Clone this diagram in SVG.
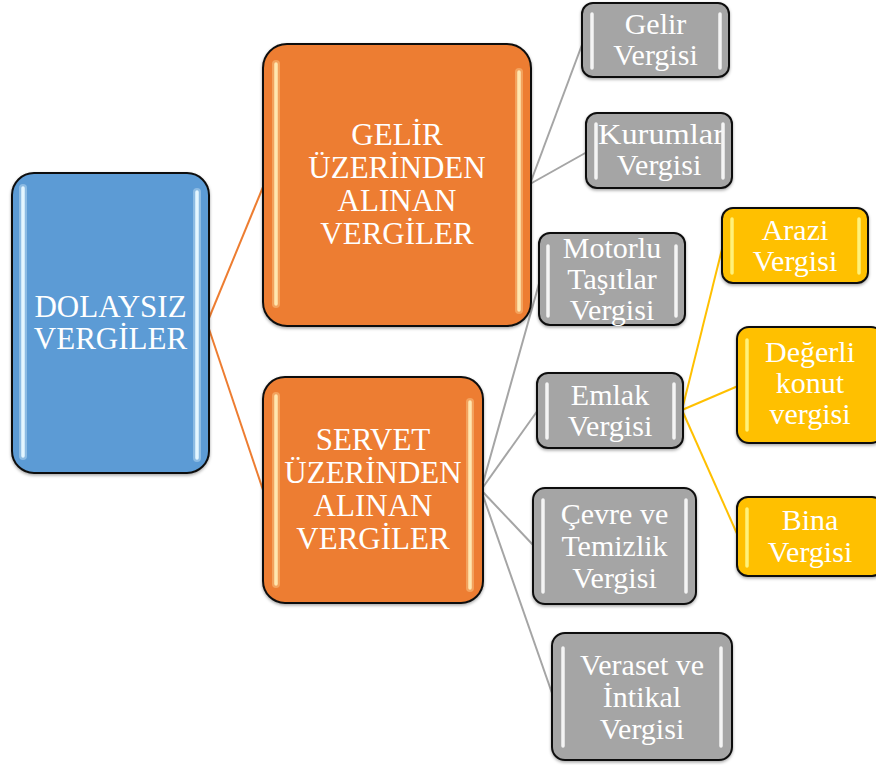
<svg xmlns="http://www.w3.org/2000/svg" width="876" height="765" viewBox="0 0 876 765">
<defs>
<style>
.box{stroke:#111;stroke-width:2}
.blue{fill:#5B9BD5}
.orange{fill:#ED7D31}
.grey{fill:#A5A5A5}
.gold{fill:#FFC000}
.hl{fill:none;stroke-linecap:round}
.hlb{stroke:#E4F6FF;stroke-width:3.5}
.hlo{stroke:#FFE7B0;stroke-width:3.5}
.hlg{stroke:#F4F4F4;stroke-width:3.5}
.hly{stroke:#FFF27A;stroke-width:3.5}
.glow{fill:none;stroke-linecap:round;stroke-width:8;opacity:.35}
.t{font-family:"Liberation Serif","Times New Roman",serif;fill:#fff;text-anchor:middle}
.big{font-size:31px}
.sm{font-size:30px}
.c-o{stroke:#ED7D31;stroke-width:2;fill:none}
.c-g{stroke:#A5A5A5;stroke-width:2;fill:none}
.c-y{stroke:#FFC000;stroke-width:2;fill:none}
</style>
<filter id="sh" x="-10%" y="-10%" width="120%" height="120%">
<feDropShadow dx="0" dy="1.5" stdDeviation="1.5" flood-color="#000" flood-opacity="0.35"/>
</filter>
</defs>

<g id="connectors">
<line class="c-o" x1="207" y1="323" x2="263" y2="187"/>
<line class="c-o" x1="207" y1="323" x2="263" y2="490"/>
<line class="c-g" x1="530" y1="184" x2="583" y2="42"/>
<line class="c-g" x1="530" y1="184" x2="587" y2="152"/>
<line class="c-g" x1="481" y1="490" x2="540" y2="280"/>
<line class="c-g" x1="481" y1="490" x2="538" y2="410"/>
<line class="c-g" x1="481" y1="490" x2="534" y2="546"/>
<line class="c-g" x1="481" y1="490" x2="553" y2="696"/>
<line class="c-y" x1="682" y1="410" x2="723" y2="245"/>
<line class="c-y" x1="682" y1="410" x2="738" y2="386"/>
<line class="c-y" x1="682" y1="410" x2="738" y2="536"/>
</g>

<g id="root">
<rect class="box blue" filter="url(#sh)" x="12" y="173" width="197" height="300" rx="22"/>
<line class="glow" stroke="#E4F6FF" x1="23" y1="188" x2="23" y2="456"/>
<line class="glow" stroke="#E4F6FF" x1="197" y1="192" x2="197" y2="458"/>
<line class="hl hlb" x1="23" y1="188" x2="23" y2="456"/>
<line class="hl hlb" x1="197" y1="192" x2="197" y2="458"/>
<text class="t big" x="110.5" y="317">DOLAYSIZ</text>
<text class="t big" x="110.5" y="349">VERGİLER</text>
</g>

<g id="gelir">
<rect class="box orange" filter="url(#sh)" x="263" y="44" width="268" height="282" rx="24"/>
<line class="glow" stroke="#FFE7B0" x1="276" y1="64" x2="276" y2="304"/>
<line class="glow" stroke="#FFE7B0" x1="519" y1="72" x2="519" y2="310"/>
<line class="hl hlo" x1="276" y1="64" x2="276" y2="304"/>
<line class="hl hlo" x1="519" y1="72" x2="519" y2="310"/>
<text class="t big" x="397" y="145">GELİR</text>
<text class="t big" x="397" y="178">ÜZERİNDEN</text>
<text class="t big" x="397" y="211">ALINAN</text>
<text class="t big" x="397" y="244">VERGİLER</text>
</g>

<g id="servet">
<rect class="box orange" filter="url(#sh)" x="263" y="377" width="220" height="226" rx="22"/>
<line class="glow" stroke="#FFE7B0" x1="276" y1="396" x2="276" y2="584"/>
<line class="glow" stroke="#FFE7B0" x1="470" y1="402" x2="470" y2="588"/>
<line class="hl hlo" x1="276" y1="396" x2="276" y2="584"/>
<line class="hl hlo" x1="470" y1="402" x2="470" y2="588"/>
<text class="t big" x="373" y="450">SERVET</text>
<text class="t big" x="373" y="483">ÜZERİNDEN</text>
<text class="t big" x="373" y="516">ALINAN</text>
<text class="t big" x="373" y="549">VERGİLER</text>
</g>

<g id="gelir-vergisi">
<rect class="box grey" filter="url(#sh)" x="582" y="3" width="147" height="74" rx="11"/>
<line class="hl hlg" x1="592" y1="14" x2="592" y2="68"/>
<line class="hl hlg" x1="720" y1="14" x2="720" y2="68"/>
<text class="t sm" x="655.5" y="34">Gelir</text>
<text class="t sm" x="655.5" y="65">Vergisi</text>
</g>

<g id="kurumlar-vergisi">
<rect class="box grey" filter="url(#sh)" x="586" y="113" width="146" height="75" rx="11"/>
<text class="t sm" x="661" y="144" textLength="126" lengthAdjust="spacingAndGlyphs">Kurumlar</text>
<line class="hl hlg" x1="596" y1="124" x2="596" y2="178"/>
<line class="hl hlg" x1="723" y1="124" x2="723" y2="178"/>
<text class="t sm" x="659" y="175">Vergisi</text>
</g>

<g id="motorlu">
<rect class="box grey" filter="url(#sh)" x="539" y="233" width="146" height="92" rx="11"/>
<line class="hl hlg" x1="548" y1="246" x2="548" y2="316"/>
<line class="hl hlg" x1="676" y1="246" x2="676" y2="316"/>
<text class="t sm" x="612" y="258">Motorlu</text>
<text class="t sm" x="612" y="289">Taşıtlar</text>
<text class="t sm" x="612" y="320">Vergisi</text>
</g>

<g id="emlak">
<rect class="box grey" filter="url(#sh)" x="537" y="373" width="146" height="75" rx="11"/>
<line class="hl hlg" x1="547" y1="384" x2="547" y2="438"/>
<line class="hl hlg" x1="674" y1="384" x2="674" y2="438"/>
<text class="t sm" x="610" y="405">Emlak</text>
<text class="t sm" x="610" y="436">Vergisi</text>
</g>

<g id="cevre">
<rect class="box grey" filter="url(#sh)" x="533" y="488" width="163" height="116" rx="12"/>
<line class="hl hlg" x1="543" y1="500" x2="543" y2="592"/>
<line class="hl hlg" x1="686" y1="500" x2="686" y2="592"/>
<text class="t sm" x="614.5" y="524">Çevre ve</text>
<text class="t sm" x="614.5" y="556">Temizlik</text>
<text class="t sm" x="614.5" y="588">Vergisi</text>
</g>

<g id="veraset">
<rect class="box grey" filter="url(#sh)" x="552" y="633" width="180" height="127" rx="13"/>
<line class="hl hlg" x1="563" y1="648" x2="563" y2="746"/>
<line class="hl hlg" x1="721" y1="648" x2="721" y2="746"/>
<text class="t sm" x="642" y="675">Veraset ve</text>
<text class="t sm" x="642" y="707">İntikal</text>
<text class="t sm" x="642" y="739">Vergisi</text>
</g>

<g id="arazi">
<rect class="box gold" filter="url(#sh)" x="722" y="208" width="146" height="75" rx="11"/>
<line class="hl hly" x1="732" y1="219" x2="732" y2="273"/>
<line class="hl hly" x1="859" y1="219" x2="859" y2="273"/>
<text class="t sm" x="795" y="240">Arazi</text>
<text class="t sm" x="795" y="271">Vergisi</text>
</g>

<g id="degerli">
<rect class="box gold" filter="url(#sh)" x="737" y="327" width="146" height="116" rx="12"/>
<line class="hl hly" x1="747" y1="340" x2="747" y2="430"/>
<text class="t sm" x="810" y="362">Değerli</text>
<text class="t sm" x="810" y="393">konut</text>
<text class="t sm" x="810" y="424">vergisi</text>
</g>

<g id="bina">
<rect class="box gold" filter="url(#sh)" x="737" y="497" width="146" height="79" rx="11"/>
<line class="hl hly" x1="747" y1="509" x2="747" y2="566"/>
<text class="t sm" x="810" y="530">Bina</text>
<text class="t sm" x="810" y="562">Vergisi</text>
</g>
</svg>
